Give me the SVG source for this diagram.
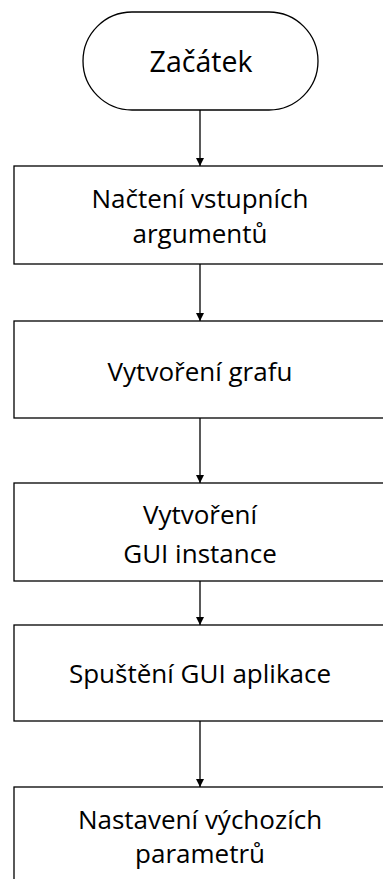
<svg xmlns="http://www.w3.org/2000/svg" width="383" height="879" viewBox="0 0 383 879">
<style>
.shape{fill:#fff;stroke:#000;stroke-width:1.3}
.t{font-family:"Open Sans","DejaVu Sans",sans-serif;font-size:26px;fill:#000;text-anchor:middle}
.big{font-size:28.5px}
.con{stroke:#000;stroke-width:1.3;fill:none;marker-end:url(#ah)}
</style>
<defs>
<marker id="ah" viewBox="0 0 10 10" refX="10" refY="5" markerWidth="8" markerHeight="8" markerUnits="userSpaceOnUse" orient="auto">
<path d="M0,0 L10,5 L0,10 z" fill="#000"/>
</marker>
</defs>
<g id="connectors">
<line class="con" x1="200" y1="110" x2="200" y2="166"/>
<line class="con" x1="200" y1="264" x2="200" y2="321"/>
<line class="con" x1="200" y1="418" x2="200" y2="483"/>
<line class="con" x1="200" y1="581" x2="200" y2="625"/>
<line class="con" x1="200" y1="721" x2="200" y2="787"/>
</g>
<g id="start">
<rect class="shape" x="83" y="12" width="235" height="98" rx="49" ry="49"/>
<text class="t big" x="201" y="72">Začátek</text>
</g>
<g id="nacteni">
<rect class="shape" x="14" y="166" width="372" height="98"/>
<text class="t" x="200" y="208">Načtení vstupních</text>
<text class="t" x="200" y="243">argumentů</text>
</g>
<g id="graf">
<rect class="shape" x="14" y="321" width="372" height="97"/>
<text class="t" x="200" y="381">Vytvoření grafu</text>
</g>
<g id="gui">
<rect class="shape" x="14" y="483" width="372" height="98"/>
<text class="t" x="200" y="524">Vytvoření</text>
<text class="t" x="200" y="563">GUI instance</text>
</g>
<g id="spusteni">
<rect class="shape" x="14" y="625" width="372" height="96"/>
<text class="t" x="200" y="683">Spuštění GUI aplikace</text>
</g>
<g id="nastaveni">
<rect class="shape" x="14" y="787" width="372" height="100"/>
<text class="t" x="200" y="829">Nastavení výchozích</text>
<text class="t" x="200" y="863">parametrů</text>
</g>
</svg>
